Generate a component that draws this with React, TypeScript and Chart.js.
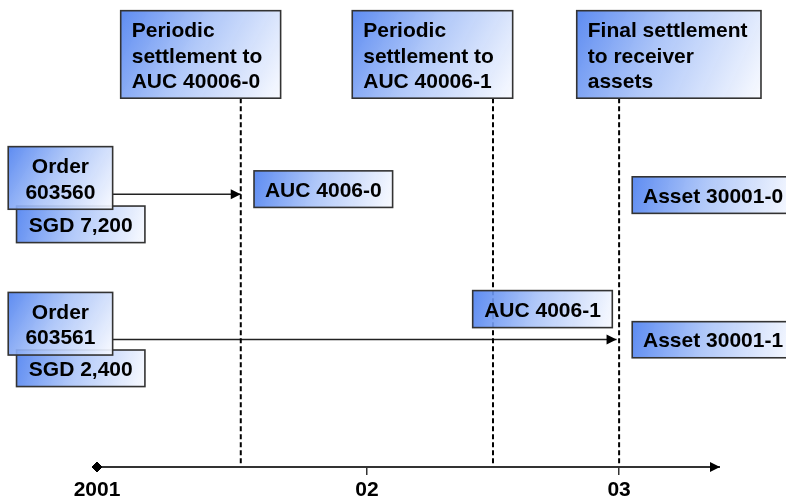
import { useEffect, useRef } from 'react';
import { Chart, registerables } from 'chart.js';

Chart.register(...registerables);

// ---------- data ----------
const tickLabels = ['2001', '02', '03'];
const tickValues = [2000.93, 2002, 2003];
const timelineSpan = [2000.93, 2003.4];
const settlementTimes = [2001.5, 2002.5, 2003];
const settlementTexts = [
  ['Periodic', 'settlement to', 'AUC 40006-0'],
  ['Periodic', 'settlement to', 'AUC 40006-1'],
  ['Final settlement', 'to receiver', 'assets'],
];
const orderTexts = [
  ['Order', '603560'],
  ['Order', '603561'],
];
const orderAmounts = ['SGD 7,200', 'SGD 2,400'];
const orderStarts = [2000.992, 2000.992];
const orderEnds = [2001.5, 2002.99];
const aucTexts = ['AUC 4006-0', 'AUC 4006-1'];
const assetTexts = ['Asset 30001-0', 'Asset 30001-1'];

// ---------- layout (data space: x = years, y = 0..100) ----------
const LAYOUT = {
  settleTop: 99.85,
  settleBottom: 80.7,
  settleBoxes: [
    [2001.024, 2001.658],
    [2001.942, 2002.578],
    [2002.832, 2003.5625],
  ],
  orderBoxes: [
    { x0: 2000.578, x1: 2000.992, y0: 70.1, y1: 56.4 },
    { x0: 2000.578, x1: 2000.992, y0: 38.2, y1: 24.5 },
  ],
  amountBoxes: [
    { x0: 2000.611, x1: 2001.12, y0: 57.1, y1: 49.1 },
    { x0: 2000.611, x1: 2001.12, y0: 25.6, y1: 17.6 },
  ],
  arrowY: [59.7, 27.9],
  aucBoxes: [
    { x0: 2001.5525, x1: 2002.102, y0: 64.8, y1: 56.8 },
    { x0: 2002.4195, x1: 2002.973, y0: 38.6, y1: 30.5 },
  ],
  assetBoxes: [
    { x0: 2003.052, x1: 2003.693, y0: 63.5, y1: 55.5 },
    { x0: 2003.052, x1: 2003.693, y0: 31.8, y1: 23.9 },
  ],
};

const FONT = 'bold 21px "Liberation Sans", Arial, sans-serif';
const INK = '#333333';

type Box = { x0: number; x1: number; y0: number; y1: number; lines: string[]; align: 'left' | 'center' };

function buildBoxes(): Box[] {
  const boxes: Box[] = [];
  settlementTexts.forEach((lines, i) => {
    boxes.push({
      x0: LAYOUT.settleBoxes[i][0],
      x1: LAYOUT.settleBoxes[i][1],
      y0: LAYOUT.settleTop,
      y1: LAYOUT.settleBottom,
      lines,
      align: 'left',
    });
  });
  orderAmounts.forEach((t, i) => boxes.push({ ...LAYOUT.amountBoxes[i], lines: [t], align: 'center' }));
  orderTexts.forEach((lines, i) => boxes.push({ ...LAYOUT.orderBoxes[i], lines, align: 'center' }));
  aucTexts.forEach((t, i) => boxes.push({ ...LAYOUT.aucBoxes[i], lines: [t], align: 'center' }));
  assetTexts.forEach((t, i) => boxes.push({ ...LAYOUT.assetBoxes[i], lines: [t], align: 'center' }));
  return boxes;
}

const boxPlugin = {
  id: 'boxes',
  afterDatasetsDraw(chart: any) {
    const { ctx, scales } = chart;
    const xs = scales.x;
    const ys = scales.y;
    ctx.save();
    for (const b of buildBoxes()) {
      const l = xs.getPixelForValue(b.x0);
      const r = xs.getPixelForValue(b.x1);
      const t = ys.getPixelForValue(b.y0);
      const bt = ys.getPixelForValue(b.y1);
      const w = r - l;
      const h = bt - t;
      const g = ctx.createLinearGradient(l, t, r, bt);
      g.addColorStop(0, 'rgba(80,130,240,0.92)');
      g.addColorStop(0.45, 'rgba(168,194,248,0.9)');
      g.addColorStop(1, 'rgba(248,250,255,0.92)');
      ctx.fillStyle = g;
      ctx.fillRect(l, t, w, h);
      ctx.lineWidth = 1.6;
      ctx.strokeStyle = INK;
      ctx.strokeRect(l, t, w, h);
      ctx.fillStyle = '#000000';
      ctx.font = FONT;
      ctx.textBaseline = 'alphabetic';
      ctx.textAlign = b.align;
      const tx = b.align === 'left' ? l + 11 : l + w / 2;
      if (b.lines.length === 1) {
        ctx.fillText(b.lines[0], tx, t + h / 2 + 7.5);
      } else {
        b.lines.forEach((line, i) => ctx.fillText(line, tx, t + 26.6 + i * 25.3));
      }
    }
    // arrowheads
    chart.data.datasets.forEach((ds: any, i: number) => {
      if (!ds.arrow) return;
      const pts = chart.getDatasetMeta(i).data;
      const a = pts[pts.length - 2];
      const p = pts[pts.length - 1];
      const ang = Math.atan2(p.y - a.y, p.x - a.x);
      const len = 10;
      const half = 5;
      ctx.fillStyle = '#000000';
      ctx.beginPath();
      ctx.moveTo(p.x, p.y);
      ctx.lineTo(p.x - len * Math.cos(ang) + half * Math.sin(ang), p.y - len * Math.sin(ang) - half * Math.cos(ang));
      ctx.lineTo(p.x - len * Math.cos(ang) - half * Math.sin(ang), p.y - len * Math.sin(ang) + half * Math.cos(ang));
      ctx.closePath();
      ctx.fill();
    });
    ctx.restore();
  },
};

export default function App() {
  const ref = useRef<HTMLCanvasElement | null>(null);

  useEffect(() => {
    if (!ref.current) return;
    const datasets: any[] = [];
    datasets.push({
      label: 'timeline',
      data: [
        { x: timelineSpan[0], y: 0 },
        { x: timelineSpan[1] - 0.02, y: 0 },
        { x: timelineSpan[1], y: 0 },
      ],
      showLine: true,
      borderColor: INK,
      borderWidth: 2,
      pointStyle: 'rectRot',
      pointRadius: [5, 0, 0],
      pointBackgroundColor: '#000',
      pointBorderColor: '#000',
      pointBorderWidth: 1,
      arrow: true,
      clip: false,
    });
    settlementTimes.forEach((t) => {
      datasets.push({
        label: 'settlement',
        data: [
          { x: t, y: LAYOUT.settleBottom },
          { x: t, y: 0 },
        ],
        showLine: true,
        borderColor: '#000',
        borderWidth: 2,
        borderDash: [5, 3],
        pointRadius: 0,
        clip: false,
      });
    });
    orderEnds.forEach((end, i) => {
      datasets.push({
        label: 'order',
        data: [
          { x: orderStarts[i], y: LAYOUT.arrowY[i] },
          { x: end, y: LAYOUT.arrowY[i] },
        ],
        showLine: true,
        borderColor: '#222222',
        borderWidth: 1.5,
        pointRadius: 0,
        arrow: true,
        clip: false,
      });
    });

    const chart = new Chart(ref.current, {
      type: 'scatter',
      data: { datasets },
      plugins: [boxPlugin],
      options: {
        responsive: false,
        animation: false,
        events: [],
        layout: { padding: { left: 97, right: 66, top: 10, bottom: 0 } },
        plugins: { legend: { display: false }, tooltip: { enabled: false } },
        scales: {
          x: {
            type: 'linear',
            min: timelineSpan[0],
            max: timelineSpan[1],
            border: { display: false },
            grid: {
              drawOnChartArea: false,
              drawTicks: true,
              tickLength: 8,
              lineWidth: 1.5,
              color: (c: any) => (c.index === 0 ? 'rgba(0,0,0,0)' : INK),
            },
            afterBuildTicks: (scale: any) => {
              scale.ticks = tickValues.map((v) => ({ value: v }));
            },
            afterFit: (scale: any) => {
              scale.height = 32;
            },
            ticks: {
              autoSkip: false,
              maxRotation: 0,
              padding: 3,
              color: '#000',
              font: { family: '"Liberation Sans", Arial, sans-serif', size: 21, weight: 'bold' },
              callback: (_v: any, index: number) => tickLabels[index],
            },
          },
          y: { type: 'linear', display: false, min: 0, max: 100 },
        },
      } as any,
    });
    return () => chart.destroy();
  }, []);

  return (
    <div style={{ position: 'absolute', left: 0, top: 0, width: 786, height: 499, background: '#fff' }}>
      <canvas ref={ref} width={786} height={499} style={{ display: 'block' }} />
    </div>
  );
}
